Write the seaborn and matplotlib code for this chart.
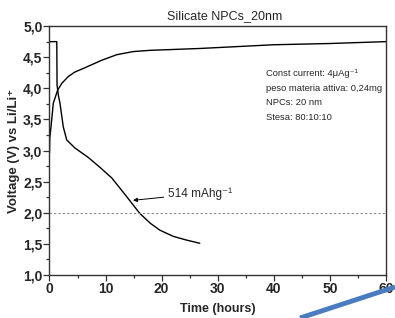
import numpy as np
import pandas as pd
import matplotlib
matplotlib.use("Agg")
import matplotlib.pyplot as plt
from matplotlib import font_manager
from matplotlib.ticker import MultipleLocator, FuncFormatter
from matplotlib.lines import Line2D
import seaborn as sns

# ---------- DATA ----------
charge_time = [0, 0.05, 0.27, 0.68, 1.45, 2.2, 3.36, 4.5, 6.3, 9.3, 12.0, 14.9, 17.9, 26.8, 40.0, 50.0, 60.0]
charge_volt = [2.96, 3.2, 3.38, 3.76, 3.97, 4.08, 4.19, 4.26, 4.33, 4.45, 4.54, 4.59, 4.61, 4.64, 4.70, 4.72, 4.75]

discharge_time = [0, 1.3, 1.35, 1.6, 1.87, 2.46, 3.07, 4.55, 6.9, 9.0, 11.1, 13.5, 16.1, 18.0, 19.7, 22.1, 24.5, 26.8]
discharge_volt = [4.75, 4.75, 4.05, 3.88, 3.76, 3.38, 3.17, 3.04, 2.89, 2.73, 2.56, 2.29, 1.99, 1.83, 1.72, 1.62, 1.56, 1.51]

cutoff_volt = 2.0
capacity_label = "514 mAhg\u207b\u00b9"
info_lines = ["Const current: 4\u03bcAg\u207b\u00b9",
              "peso materia attiva: 0,24mg",
              "NPCs: 20 nm",
              "Stesa: 80:10:10"]

charge = pd.DataFrame({"t": charge_time, "v": charge_volt})
discharge = pd.DataFrame({"t": discharge_time, "v": discharge_volt})

# pick a narrow Arial-like face if there is one
face = "Liberation Sans"
for cand in ["Liberation Sans Narrow", "Arial Narrow", "DejaVu Sans Condensed"]:
    try:
        font_manager.findfont(cand, fallback_to_default=False)
        face = cand
        break
    except Exception:
        pass

# ---------- PLOT ----------
sns.set_style("white")
plt.rcParams["font.family"] = [face, "DejaVu Sans"]

fig = plt.figure(figsize=(3.95, 3.18), dpi=100)
ax = fig.add_axes([0.1253, 0.1352, 0.8517, 0.7828])

sns.lineplot(data=charge, x="t", y="v", ax=ax, color="black", lw=1.0,
             sort=False, estimator=None)
sns.lineplot(data=discharge, x="t", y="v", ax=ax, color="black", lw=1.0,
             sort=False, estimator=None)
ax.axhline(cutoff_volt, color="#888888", lw=0.8, ls=(0, (2, 2)))

ax.set_xlim(0, 60)
ax.set_ylim(1.0, 5.0)
ax.xaxis.set_major_locator(MultipleLocator(10))
ax.xaxis.set_minor_locator(MultipleLocator(5))
ax.yaxis.set_major_locator(MultipleLocator(0.5))
ax.yaxis.set_minor_locator(MultipleLocator(0.25))
ax.xaxis.set_major_formatter(FuncFormatter(lambda v, p: f"{v:.0f}"))
ax.yaxis.set_major_formatter(FuncFormatter(lambda v, p: f"{v:.1f}".replace(".", ",")))
ax.tick_params(which="both", direction="out", bottom=True, left=True,
               top=False, right=False, color="#333333", width=0.9)
ax.tick_params(which="major", length=4, labelsize=10, pad=1)
ax.tick_params(which="minor", length=2.5)
for lab in ax.get_xticklabels() + ax.get_yticklabels():
    lab.set_fontweight("bold")
for s in ax.spines.values():
    s.set_color("#333333")
    s.set_linewidth(1.0)

ax.set_xlabel("Time (hours)", fontsize=9, fontweight="bold", labelpad=5)
ax.set_ylabel("Voltage (V) vs Li/Li\u207a", fontsize=9.5, fontweight="bold", labelpad=2)
ax.set_title("Silicate NPCs_20nm", fontsize=9, pad=5, x=0.52)

# info block: one line each, 14.8 px apart, shrunk to fit the free space
info_texts = []
for i, line in enumerate(info_lines):
    t = ax.annotate(line, xy=(38.6, 4.20), xytext=(0, -i * 14.8 * 0.72),
                    textcoords="offset points", fontsize=9,
                    va="baseline", ha="left")
    info_texts.append(t)
fig.canvas.draw()
r = fig.canvas.get_renderer()
widest = max(t.get_window_extent(r).width for t in info_texts)
for t in info_texts:
    t.set_fontsize(9 * min(1.0, 116 / widest))

ax.annotate(capacity_label, xy=(14.9, 2.20), xytext=(21.2, 2.31),
            fontsize=8.5, va="center", ha="left",
            arrowprops=dict(arrowstyle="-|>", color="black", lw=0.7,
                            mutation_scale=6, shrinkA=1, shrinkB=0))

# blue streak at bottom right of the original image
fig.add_artist(Line2D([300 / 395, 1.0], [0.0, 1 - 287 / 318],
                      transform=fig.transFigure, color="#4a7cbf", lw=3.5,
                      solid_capstyle="butt", zorder=10))

fig.savefig("out.png", dpi=100)
